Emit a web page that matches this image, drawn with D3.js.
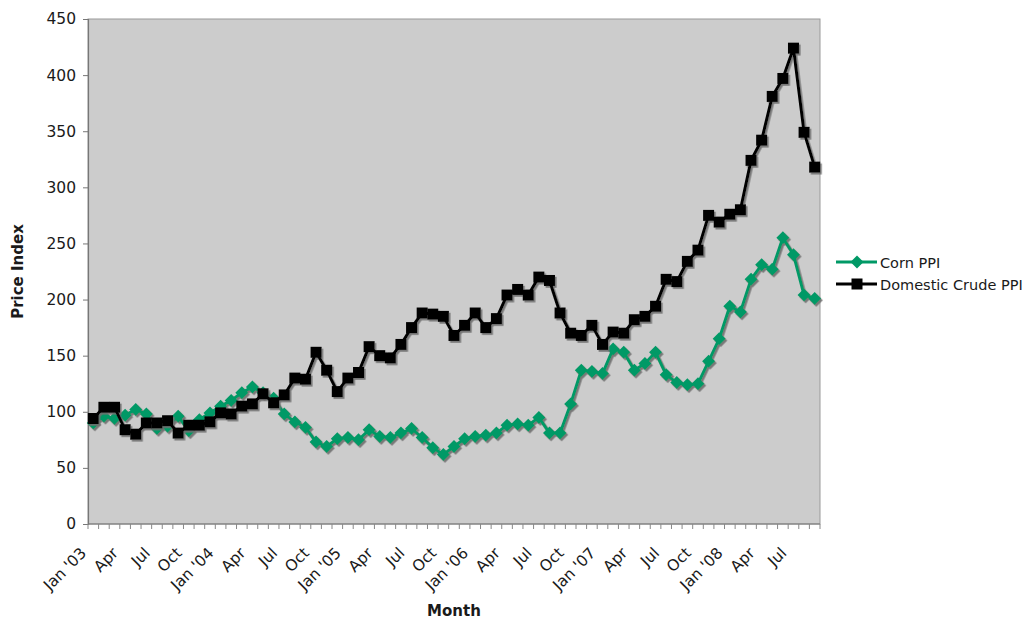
<!DOCTYPE html>
<html>
<head>
<meta charset="utf-8">
<script src="https://cdn.jsdelivr.net/npm/d3@7"></script>
<style>
  html, body { margin: 0; padding: 0; background: #fff; }
  svg { display: block; }
  text { font-family: "DejaVu Sans", Verdana, sans-serif; fill: #1a1a1a; }
</style>
</head>
<body>
<svg id="chart" width="1028" height="619"></svg>
<script>
// Monthly categories, Jan 2003 through Sep 2008
const categories = [
  "Jan '03","Feb '03","Mar '03","Apr '03","May '03","Jun '03","Jul '03","Aug '03","Sep '03","Oct '03","Nov '03","Dec '03",
  "Jan '04","Feb '04","Mar '04","Apr '04","May '04","Jun '04","Jul '04","Aug '04","Sep '04","Oct '04","Nov '04","Dec '04",
  "Jan '05","Feb '05","Mar '05","Apr '05","May '05","Jun '05","Jul '05","Aug '05","Sep '05","Oct '05","Nov '05","Dec '05",
  "Jan '06","Feb '06","Mar '06","Apr '06","May '06","Jun '06","Jul '06","Aug '06","Sep '06","Oct '06","Nov '06","Dec '06",
  "Jan '07","Feb '07","Mar '07","Apr '07","May '07","Jun '07","Jul '07","Aug '07","Sep '07","Oct '07","Nov '07","Dec '07",
  "Jan '08","Feb '08","Mar '08","Apr '08","May '08","Jun '08","Jul '08","Aug '08","Sep '08"
];

// Axis labels shown every third month
const tickLabels = [
  "Jan '03","Apr","Jul","Oct","Jan '04","Apr","Jul","Oct","Jan '05","Apr","Jul","Oct",
  "Jan '06","Apr","Jul","Oct","Jan '07","Apr","Jul","Oct","Jan '08","Apr","Jul"
];

const yTicks = [0, 50, 100, 150, 200, 250, 300, 350, 400, 450];

const cornPPI = [
  90, 96, 94, 97, 102, 98, 85, 87, 96, 83, 93, 99,
  105, 110, 117, 122, 117, 112, 98, 91, 86, 73, 69, 76,
  77, 75, 84, 78, 77, 81, 85, 77, 68, 62, 69, 76,
  78, 79, 81, 88, 89, 88, 95, 81, 81, 107, 137, 136,
  134, 156, 153, 137, 143, 153, 133, 126, 124, 125, 145, 165,
  194, 189, 218, 231, 227, 255, 240, 204, 201
];

const crudePPI = [
  94, 104, 104, 84, 80, 90, 90, 92, 81, 88, 88, 91,
  99, 98, 105, 107, 116, 108, 115, 130, 129, 153, 137, 118,
  130, 135, 158, 150, 148, 160, 175, 188, 187, 185, 168, 177,
  188, 175, 183, 204, 209, 204, 220, 217, 188, 170, 168, 177,
  160, 171, 170, 182, 185, 194, 218, 216, 234, 244, 275, 269,
  276, 280, 324, 342, 381, 397, 424, 349, 318
];

const svg = d3.select("#chart");
const plot = { left: 88, right: 820, top: 19, bottom: 524 };

const x = d3.scaleBand().domain(categories).range([plot.left, plot.right]).padding(0);
const y = d3.scaleLinear().domain([0, 450]).range([plot.bottom, plot.top]);
const cx = c => x(c) + x.bandwidth() / 2;

// Drop shadow used by the series lines and markers
const defs = svg.append("defs");
const f = defs.append("filter").attr("id", "shadow")
  .attr("x", "-10%").attr("y", "-10%").attr("width", "120%").attr("height", "120%");
f.append("feDropShadow").attr("dx", 1.6).attr("dy", 1.8).attr("stdDeviation", 0.6)
  .attr("flood-color", "#6e6e6e").attr("flood-opacity", 0.9);

// Plot area
svg.append("rect")
  .attr("x", plot.left).attr("y", plot.top)
  .attr("width", plot.right - plot.left).attr("height", plot.bottom - plot.top)
  .attr("fill", "#cccccc").attr("stroke", "#9a9a9a").attr("stroke-width", 1);

// Y axis
const yAxis = d3.axisLeft(y).tickValues(yTicks).tickSize(5).tickPadding(7);
const gy = svg.append("g").attr("transform", `translate(${plot.left},0)`).call(yAxis);
gy.select(".domain").attr("stroke", "#777").attr("stroke-width", 1.2);
gy.selectAll(".tick line").attr("stroke", "#777");
gy.selectAll(".tick text").style("font-size", "15.5px").style("font-family", "DejaVu Sans").attr("fill", "#1a1a1a");

// X axis: ticks sit between months
const gx = svg.append("g").attr("transform", `translate(0,${plot.bottom})`);
gx.append("line").attr("x1", plot.left).attr("x2", plot.right).attr("y1", 0).attr("y2", 0)
  .attr("stroke", "#777").attr("stroke-width", 1.2);
const boundaries = categories.map(c => x(c)).concat([plot.right]);
gx.selectAll("line.tick").data(boundaries).enter().append("line")
  .attr("class", "tick")
  .attr("x1", d => d).attr("x2", d => d).attr("y1", 0).attr("y2", 5)
  .attr("stroke", "#888").attr("stroke-width", 1);

const labelled = tickLabels.map((t, i) => ({ text: t, cat: categories[i * 3] }));
gx.selectAll("text.xl").data(labelled).enter().append("text")
  .attr("class", "xl")
  .attr("text-anchor", "end")
  .attr("transform", d => `translate(${cx(d.cat) - 6},30) rotate(-45)`)
  .style("font-size", "15.5px")
  .text(d => d.text);

// Axis titles
svg.append("text")
  .attr("transform", `translate(23,${(plot.top + plot.bottom) / 2}) rotate(-90)`)
  .attr("text-anchor", "middle")
  .style("font-size", "15px").style("font-weight", "bold")
  .text("Price Index");

svg.append("text")
  .attr("x", (plot.left + plot.right) / 2).attr("y", 616)
  .attr("text-anchor", "middle")
  .style("font-size", "15px").style("font-weight", "bold")
  .text("Month");

// Series
const series = [
  { name: "Corn PPI", values: cornPPI, color: "#009966", marker: "diamond" },
  { name: "Domestic Crude PPI", values: crudePPI, color: "#000000", marker: "square" }
];

const line = d3.line().x(d => cx(d.c)).y(d => y(d.v));

function drawMarker(g, type, color, px, py) {
  if (type === "square") {
    g.append("rect").attr("x", px - 5.5).attr("y", py - 5.5).attr("width", 11).attr("height", 11)
      .attr("fill", color);
  } else {
    const r = 6.5;
    g.append("path").attr("d", `M${px},${py - r}L${px + r},${py}L${px},${py + r}L${px - r},${py}Z`)
      .attr("fill", color);
  }
}

series.forEach(s => {
  const pts = s.values.map((v, i) => ({ c: categories[i], v }));
  const g = svg.append("g").attr("filter", "url(#shadow)");
  g.append("path").datum(pts).attr("d", line)
    .attr("fill", "none").attr("stroke", s.color).attr("stroke-width", 3)
    .attr("stroke-linejoin", "round");
  pts.forEach(p => drawMarker(g, s.marker, s.color, cx(p.c), y(p.v)));
});

// Legend
const legend = svg.append("g");
series.forEach((s, i) => {
  const ly = 262 + i * 22;
  legend.append("line").attr("x1", 836).attr("x2", 877).attr("y1", ly).attr("y2", ly)
    .attr("stroke", s.color).attr("stroke-width", 3);
  drawMarker(legend, s.marker, s.color, 857, ly);
  legend.append("text").attr("x", 880).attr("y", ly + 5.5)
    .style("font-size", "14.5px").text(s.name);
});
</script>
</body>
</html>
